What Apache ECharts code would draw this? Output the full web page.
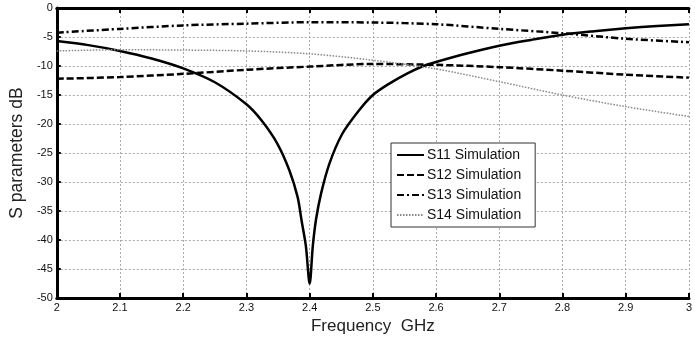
<!DOCTYPE html>
<html>
<head>
<meta charset="utf-8">
<script src="https://cdn.jsdelivr.net/npm/echarts@6/dist/echarts.min.js"></script>
<style>
html,body{margin:0;padding:0;background:#fff;}
#chart{width:695px;height:340px;}
</style>
</head>
<body>
<div id="chart"></div>
<script>
// ---- data ----
var seriesNames = ['S11 Simulation', 'S12 Simulation', 'S13 Simulation', 'S14 Simulation'];

var freqS11 = [2.0, 2.05, 2.1, 2.15, 2.2, 2.25, 2.3, 2.324, 2.349, 2.368, 2.381, 2.387, 2.394, 2.4,
               2.405, 2.41, 2.418, 2.431, 2.451, 2.477, 2.5, 2.528, 2.554, 2.58, 2.6, 2.65, 2.7, 2.75, 2.8, 2.85, 2.9, 2.95, 3.0];
var s11 = [-5.7, -6.4, -7.4, -8.7, -10.4, -12.8, -16.6, -19.4, -23.4, -28, -32.6, -36.5, -41, -47.5,
           -41, -36.5, -32, -26.9, -21.8, -17.8, -15.0, -12.9, -11.3, -10.0, -9.3, -7.8, -6.5, -5.5, -4.6, -4.0, -3.5, -3.1, -2.8];

var freq = [2.0, 2.1, 2.2, 2.3, 2.4, 2.5, 2.6, 2.7, 2.8, 2.9, 3.0];
var s12 = [-12.2, -11.9, -11.35, -10.65, -10.1, -9.65, -9.8, -10.2, -10.8, -11.5, -12.0];
var s13 = [-4.25, -3.6, -3.0, -2.7, -2.45, -2.5, -2.8, -3.6, -4.35, -5.3, -5.9];
var s14 = [-7.4, -7.2, -7.25, -7.4, -7.9, -9.0, -10.5, -12.7, -15.0, -17.0, -18.7];

var xTickLabels = ['2', '2.1', '2.2', '2.3', '2.4', '2.5', '2.6', '2.7', '2.8', '2.9', '3'];
var yTickLabels = ['-50', '-45', '-40', '-35', '-30', '-25', '-20', '-15', '-10', '-5', '0'];

function pairs(xs, ys) { return xs.map(function (x, i) { return [x, ys[i]]; }); }

var font = 'Arial, "Liberation Sans", sans-serif';
var chart = echarts.init(document.getElementById('chart'), null, {renderer: 'canvas'});

function line(name, xs, ys, style) {
  return {
    name: name, type: 'line', data: pairs(xs, ys),
    symbol: 'none', showSymbol: false, smooth: 0.3,
    lineStyle: style, itemStyle: {color: style.color},
    emphasis: {disabled: true}, animation: false, z: 3
  };
}

chart.setOption({
  animation: false,
  backgroundColor: '#ffffff',
  grid: {left: 55, right: 6, top: 8, bottom: 37, containLabel: false},
  legend: {
    show: true, orient: 'vertical', left: 391, top: 143,
    data: seriesNames,
    backgroundColor: '#ffffff', borderColor: '#333', borderWidth: 1, borderRadius: 0,
    padding: [5, 14, 5, 5], itemWidth: 27, itemHeight: 14, itemGap: 6,
    itemStyle: {opacity: 0},
    textStyle: {fontFamily: font, fontSize: 14, color: '#111', padding: [0, 0, 0, -2]},
    selectedMode: false
  },
  xAxis: [{
    type: 'value', min: 2, max: 3, interval: 0.1, position: 'bottom',
    name: 'Frequency  GHz', nameLocation: 'middle', nameGap: 14,
    nameTextStyle: {fontFamily: font, fontSize: 17, color: '#222'},
    axisLine: {show: true, onZero: false, lineStyle: {color: '#000', width: 3}},
    axisTick: {show: true, inside: true, length: 5, lineStyle: {color: '#000', width: 2}},
    axisLabel: {
      fontFamily: font, fontSize: 11, color: '#111', margin: 4,
      formatter: function (v) { return xTickLabels[Math.round((v - 2) * 10)]; }
    },
    splitLine: {show: true, lineStyle: {color: '#aaa', width: 1, type: [2, 2]}}
  }, {
    type: 'value', min: 2, max: 3, interval: 0.1, position: 'top',
    axisLine: {show: true, onZero: false, lineStyle: {color: '#000', width: 3}},
    axisTick: {show: true, inside: true, length: 5, lineStyle: {color: '#000', width: 2}},
    axisLabel: {show: false}, splitLine: {show: false}
  }],
  yAxis: {
    type: 'value', min: -50, max: 0, interval: 5,
    name: 'S parameters dB', nameLocation: 'middle', nameGap: 26, nameRotate: 90,
    nameTextStyle: {fontFamily: font, fontSize: 17.5, color: '#222'},
    axisLine: {show: true, onZero: false, lineStyle: {color: '#000', width: 3}},
    axisTick: {show: true, inside: true, length: 4, lineStyle: {color: '#000', width: 2}},
    axisLabel: {
      fontFamily: font, fontSize: 11, color: '#111', margin: 4,
      formatter: function (v) { return yTickLabels[Math.round((v + 50) / 5)]; }
    },
    splitLine: {show: true, lineStyle: {color: '#aaa', width: 1, type: [2, 2]}}
  },
  series: [
    line(seriesNames[0], freqS11, s11, {color: '#000', width: 2.5, type: 'solid'}),
    line(seriesNames[1], freq, s12, {color: '#000', width: 2.5, type: [7, 3]}),
    line(seriesNames[2], freq, s13, {color: '#000', width: 2.5, type: [7, 3, 2, 3]}),
    line(seriesNames[3], freq, s14, {color: '#888', width: 1.5, type: [1.5, 1.5]})
  ]
});
</script>
</body>
</html>
